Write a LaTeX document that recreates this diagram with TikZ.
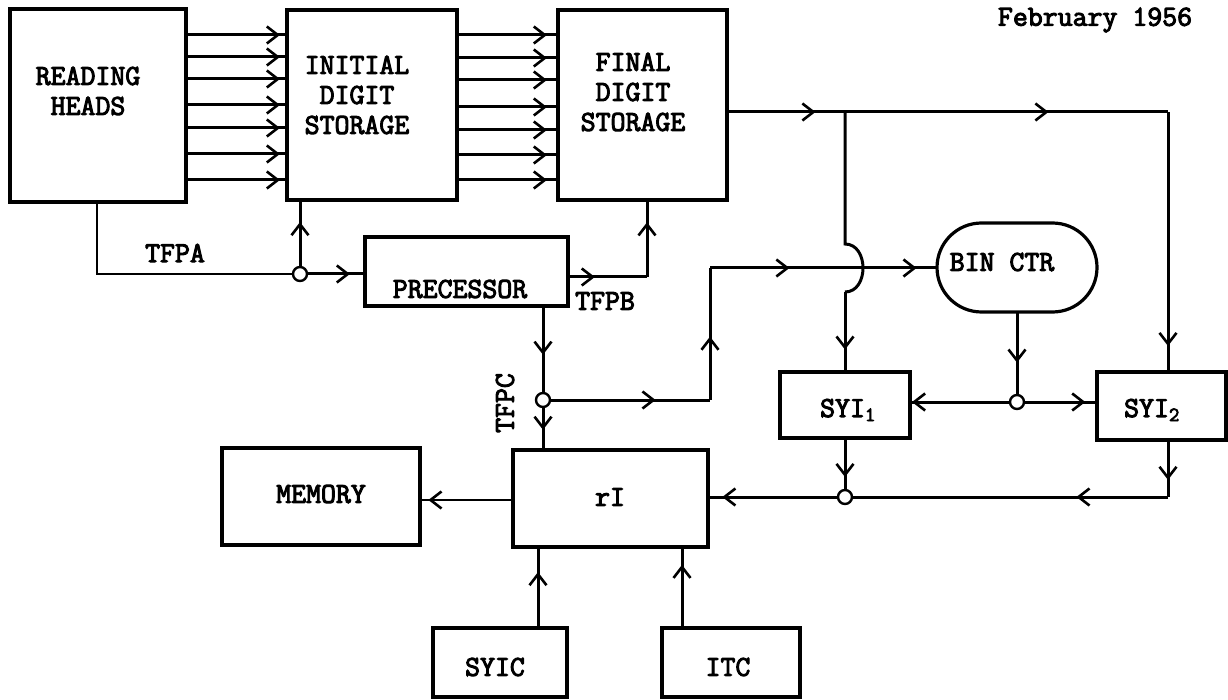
\documentclass[tikz,border=0pt]{standalone}
\usepackage{fontspec}
\newfontfamily\tw[FakeBold=3.5]{Latin Modern Mono}
\usetikzlibrary{arrows.meta,decorations.markings,shapes.misc,calc}
\tikzset{
  ln/.style={line width=3pt},
  lnb/.style={line width=2pt},
  box/.style={draw,line width=3.4pt,rectangle,inner sep=0pt,outer sep=0pt},
  jn/.style={circle,draw,line width=2.4pt,fill=white,minimum size=14pt,inner sep=0pt,outer sep=0pt},
  lbl/.style={font=\tw\fontsize{29}{30}\selectfont,align=center,inner sep=0pt},
  marr/.style={postaction={decorate,decoration={markings,mark=at position #1 with {\arrow{Straight Barb[length=11pt,width=17pt,line width=2.6pt]}}}}}
}
\begin{document}
\begin{tikzpicture}[x=1pt,y=-1pt]
\useasboundingbox (0,0) rectangle (1228,700);
% boxes
\node[box,minimum width=176,minimum height=193] (rh) at (98,105.5) {};
\node[box,minimum width=170,minimum height=190] (ids) at (372,105) {};
\node[box,minimum width=169,minimum height=190] (fds) at (642.5,105) {};
\node[box,minimum width=203,minimum height=69] (proc) at (466.5,271.5) {};
\node[draw,line width=3.2pt,rounded rectangle,inner sep=0pt,outer sep=0pt,minimum width=160,minimum height=89] (bin) at (1017,267.5) {};
\node[box,minimum width=130,minimum height=66] (syi1) at (845,405) {};
\node[box,minimum width=129,minimum height=68] (syi2) at (1161.5,406) {};
\node[box,minimum width=195,minimum height=97] (ri) at (610.5,498.5) {};
\node[box,minimum width=198,minimum height=97] (mem) at (321,496.5) {};
\node[box,minimum width=134,minimum height=69] (syic) at (500,662.5) {};
\node[box,minimum width=138,minimum height=69] (itc) at (731,662.5) {};
% labels
\node[lbl] (rhT) at (88,91) {READING\\HEADS};
\node[lbl] (idsT) at (357,95) {INITIAL\\DIGIT\\STORAGE};
\node[lbl] (fdsT) at (633,92) {FINAL\\DIGIT\\STORAGE};
\node[lbl] (procT) at (460,289) {PRECESSOR};
\node[lbl] (binT) at (1002,262) {BIN CTR};
\node[lbl] (syi1T) at (848,410) {SYI\textsubscript{1}};
\node[lbl] (syi2T) at (1152,410) {SYI\textsubscript{2}};
\node[lbl] (riT) at (610,497) {rI};
\node[lbl] (memT) at (321,494) {MEMORY};
\node[lbl] (syicT) at (495,667) {SYIC};
\node[lbl] (itcT) at (728,667) {ITC};
\node[lbl] (tfpa) at (175,253) {TFPA};
\node[lbl] (tfpb) at (605,301) {TFPB};
\node[lbl,rotate=90] (tfpc) at (505,403) {TFPC};
\node[lbl] (date) at (1095,20) {February 1956};
% junctions
\node[jn] (c1) at (300,274) {};
\node[jn] (c2) at (543,400) {};
\node[jn] (c3) at (1017,402) {};
\node[jn] (c4) at (845,497) {};
% parallel lines
\foreach \y [count=\i] in {35,57,79,105,128,154,180} {
  \coordinate (ya\i) at (0,\y);
  \draw[ln,marr=0.93] (rh.east |- ya\i) -- (ids.west |- ya\i);
}
\foreach \y [count=\i] in {35,58,80,107,130,155,180} {
  \coordinate (yb\i) at (0,\y);
  \draw[ln,marr=0.89] (ids.east |- yb\i) -- (fds.west |- yb\i);
}
% output of final digit storage
\coordinate (yo) at (0,112);
\coordinate (t1) at (845,112);
\coordinate (t2) at (1168,112);
\draw[ln,marr=0.75] (fds.east |- yo) -- (t1);
\draw[ln,marr=0.63] (t1) -- (t2);
\draw[ln,marr=0.9] (t2) -- (t2 |- syi2.north);
\coordinate (k1) at (845,244);
\coordinate (k2) at (845,292);
\draw[ln] (t1) -- (k1) .. controls (869,244) and (869,292) .. (k2);
\draw[ln,marr=0.72] (k2) -- (k2 |- syi1.north);
% TFPA
\coordinate (h1) at (97,274);
\draw[lnb] (rh.south -| h1) -- (h1) -- (c1);
\draw[ln,marr=0.67] (c1) -- (ids.south -| c1);
\draw[ln,marr=0.74] (c1) -- (proc.west |- c1);
% TFPB
\coordinate (q1) at (647,277);
\draw[ln,marr=0.34] (proc.east |- q1) -- (q1);
\draw[ln,marr=0.71] (q1) -- (fds.south -| q1);
% TFPC
\draw[ln,marr=0.56] (proc.south -| c2) -- (c2);
\draw[ln,marr=0.53] (c2) -- (c2 |- ri.north);
\coordinate (b1) at (710,400);
\coordinate (b2) at (710,268);
\draw[ln,marr=0.66] (c2) -- (b1);
\draw[ln,marr=0.48] (b1) -- (b2);
\draw[ln,marr=0.35,marr=0.91] (b2) -- (bin.west |- b2);
% bin counter
\draw[ln,marr=0.61] (bin.south) -- (c3);
\draw[ln,marr=0.98] (c3) -- (syi1.east |- c3);
\draw[ln,marr=0.84] (c3) -- (syi2.west |- c3);
% SYI outputs
\draw[ln,marr=0.75] (syi1.south) -- (c4);
\coordinate (r1) at (1168,497);
\draw[ln,marr=0.7] (t2 |- syi2.south) -- (r1);
\draw[ln,marr=0.29] (r1) -- (c4);
\draw[ln,marr=0.89] (c4) -- (ri.east |- c4);
% memory
\coordinate (ym) at (0,500);
\draw[lnb,marr=0.91] (ri.west |- ym) -- (mem.east |- ym);
% SYIC, ITC
\coordinate (sx) at (538,0);
\coordinate (ix) at (682,0);
\draw[ln,marr=0.69] (syic.north -| sx) -- (ri.south -| sx);
\draw[ln,marr=0.78] (itc.north -| ix) -- (ri.south -| ix);
\end{tikzpicture}
\end{document}
